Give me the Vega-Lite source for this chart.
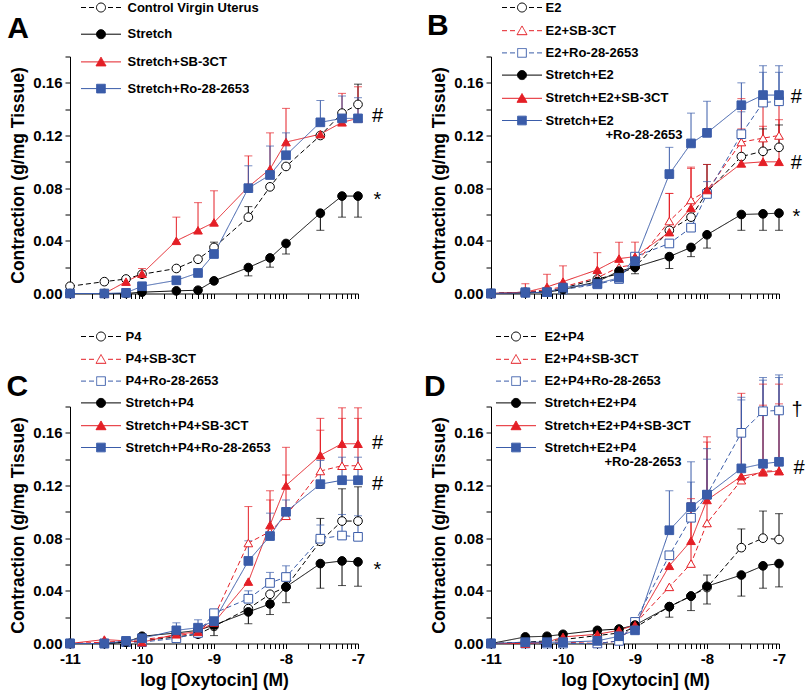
{
"$schema": "https://vega.github.io/schema/vega-lite/v6.json",
"background": "white",
"padding": {"left": 6, "top": 0.5, "right": 5, "bottom": 5},
"config": {
  "font": "Liberation Sans",
  "view": {"stroke": null},
  "axis": {"grid": false, "domainColor": "#000", "tickColor": "#000", "labelColor": "#000", "titleColor": "#000", "labelFontWeight": "bold", "labelFontSize": 15, "titleFontWeight": "bold", "titleFontSize": 17.5, "tickSize": 5, "domainWidth": 1, "tickWidth": 1, "labelPadding": 3, "titlePadding": 5, "labelOverlap": false, "labelFlush": false},
  "legend": {"labelFontSize": 13, "labelFontWeight": "bold", "labelColor": "#000", "labelLimit": 300, "padding": 0, "symbolStrokeWidth": 1, "symbolOffset": 11.5, "symbolSize": 100, "orient": "none", "title": null}
},
"datasets": {
"A": [
{"s":"Control Virgin Uterus","x":-11,"y":0.0055},{"s":"Control Virgin Uterus","x":-10.523,"y":0.009},{"s":"Control Virgin Uterus","x":-10.222,"y":0.011},{"s":"Control Virgin Uterus","x":-10,"y":0.0146},{"s":"Control Virgin Uterus","x":-9.523,"y":0.019},{"s":"Control Virgin Uterus","x":-9.222,"y":0.026},{"s":"Control Virgin Uterus","x":-9,"y":0.035,"e":0.039},{"s":"Control Virgin Uterus","x":-8.523,"y":0.058,"e":0.066},{"s":"Control Virgin Uterus","x":-8.222,"y":0.081},{"s":"Control Virgin Uterus","x":-8,"y":0.0965},{"s":"Control Virgin Uterus","x":-7.523,"y":0.12},{"s":"Control Virgin Uterus","x":-7.222,"y":0.137},{"s":"Control Virgin Uterus","x":-7,"y":0.1436,"e":0.159},
{"s":"Stretch","x":-11,"y":0},{"s":"Stretch","x":-10.523,"y":0},{"s":"Stretch","x":-10.222,"y":0},{"s":"Stretch","x":-10,"y":0.001},{"s":"Stretch","x":-9.523,"y":0.002},{"s":"Stretch","x":-9.222,"y":0.0025},{"s":"Stretch","x":-9,"y":0.0096},{"s":"Stretch","x":-8.523,"y":0.0197,"e":0.0134},{"s":"Stretch","x":-8.222,"y":0.027,"e":0.02},{"s":"Stretch","x":-8,"y":0.038,"e":0.03},{"s":"Stretch","x":-7.523,"y":0.061,"e":0.048},{"s":"Stretch","x":-7.222,"y":0.074,"e":0.058},{"s":"Stretch","x":-7,"y":0.074,"e":0.058},
{"s":"Stretch+SB-3CT","x":-11,"y":0},{"s":"Stretch+SB-3CT","x":-10.523,"y":0},{"s":"Stretch+SB-3CT","x":-10.222,"y":0.009},{"s":"Stretch+SB-3CT","x":-10,"y":0.015,"e":0.019},{"s":"Stretch+SB-3CT","x":-9.523,"y":0.04,"e":0.058},{"s":"Stretch+SB-3CT","x":-9.222,"y":0.048,"e":0.069},{"s":"Stretch+SB-3CT","x":-9,"y":0.054,"e":0.078},{"s":"Stretch+SB-3CT","x":-8.523,"y":0.081,"e":0.1045},{"s":"Stretch+SB-3CT","x":-8.222,"y":0.0945,"e":0.122},{"s":"Stretch+SB-3CT","x":-8,"y":0.115,"e":0.1406},{"s":"Stretch+SB-3CT","x":-7.523,"y":0.121},{"s":"Stretch+SB-3CT","x":-7.222,"y":0.13,"e":0.152},{"s":"Stretch+SB-3CT","x":-7,"y":0.133,"e":0.157},
{"s":"Stretch+Ro-28-2653","x":-11,"y":0},{"s":"Stretch+Ro-28-2653","x":-10.523,"y":0},{"s":"Stretch+Ro-28-2653","x":-10.222,"y":0.0005},{"s":"Stretch+Ro-28-2653","x":-10,"y":0.0055},{"s":"Stretch+Ro-28-2653","x":-9.523,"y":0.01},{"s":"Stretch+Ro-28-2653","x":-9.222,"y":0.0156},{"s":"Stretch+Ro-28-2653","x":-9,"y":0.03},{"s":"Stretch+Ro-28-2653","x":-8.523,"y":0.08,"e":0.097},{"s":"Stretch+Ro-28-2653","x":-8.222,"y":0.09,"e":0.112},{"s":"Stretch+Ro-28-2653","x":-8,"y":0.105,"e":0.122},{"s":"Stretch+Ro-28-2653","x":-7.523,"y":0.13,"e":0.1466},{"s":"Stretch+Ro-28-2653","x":-7.222,"y":0.133,"e":0.15},{"s":"Stretch+Ro-28-2653","x":-7,"y":0.133,"e":0.1487}
],
"B": [
{"s":"E2","x":-11,"y":0},{"s":"E2","x":-10.523,"y":0.001},{"s":"E2","x":-10.222,"y":0.002},{"s":"E2","x":-10,"y":0.004},{"s":"E2","x":-9.523,"y":0.011},{"s":"E2","x":-9.222,"y":0.015},{"s":"E2","x":-9,"y":0.02},{"s":"E2","x":-8.523,"y":0.048},{"s":"E2","x":-8.222,"y":0.058},{"s":"E2","x":-8,"y":0.077,"e":0.098},{"s":"E2","x":-7.523,"y":0.104},{"s":"E2","x":-7.222,"y":0.108,"e":0.125},{"s":"E2","x":-7,"y":0.111,"e":0.128},
{"s":"E2+SB-3CT","x":-11,"y":0},{"s":"E2+SB-3CT","x":-10.523,"y":0.001},{"s":"E2+SB-3CT","x":-10.222,"y":0.003},{"s":"E2+SB-3CT","x":-10,"y":0.005},{"s":"E2+SB-3CT","x":-9.523,"y":0.012},{"s":"E2+SB-3CT","x":-9.222,"y":0.02},{"s":"E2+SB-3CT","x":-9,"y":0.022},{"s":"E2+SB-3CT","x":-8.523,"y":0.055,"e":0.076},{"s":"E2+SB-3CT","x":-8.222,"y":0.071,"e":0.096},{"s":"E2+SB-3CT","x":-8,"y":0.078},{"s":"E2+SB-3CT","x":-7.523,"y":0.115,"e":0.148},{"s":"E2+SB-3CT","x":-7.222,"y":0.118,"e":0.148},{"s":"E2+SB-3CT","x":-7,"y":0.12,"e":0.146},
{"s":"E2+Ro-28-2653","x":-11,"y":0},{"s":"E2+Ro-28-2653","x":-10.523,"y":0.001},{"s":"E2+Ro-28-2653","x":-10.222,"y":0.001},{"s":"E2+Ro-28-2653","x":-10,"y":0.003},{"s":"E2+Ro-28-2653","x":-9.523,"y":0.007},{"s":"E2+Ro-28-2653","x":-9.222,"y":0.011},{"s":"E2+Ro-28-2653","x":-9,"y":0.028},{"s":"E2+Ro-28-2653","x":-8.523,"y":0.038},{"s":"E2+Ro-28-2653","x":-8.222,"y":0.05},{"s":"E2+Ro-28-2653","x":-8,"y":0.0756,"e":0.085},{"s":"E2+Ro-28-2653","x":-7.523,"y":0.121,"e":0.138},{"s":"E2+Ro-28-2653","x":-7.222,"y":0.145,"e":0.168},{"s":"E2+Ro-28-2653","x":-7,"y":0.146,"e":0.168},
{"s":"Stretch+E2","x":-11,"y":0},{"s":"Stretch+E2","x":-10.523,"y":0.0005},{"s":"Stretch+E2","x":-10.222,"y":0.001},{"s":"Stretch+E2","x":-10,"y":0.003},{"s":"Stretch+E2","x":-9.523,"y":0.009},{"s":"Stretch+E2","x":-9.222,"y":0.017},{"s":"Stretch+E2","x":-9,"y":0.02,"e":0.015},{"s":"Stretch+E2","x":-8.523,"y":0.028,"e":0.019},{"s":"Stretch+E2","x":-8.222,"y":0.035,"e":0.028},{"s":"Stretch+E2","x":-8,"y":0.0446,"e":0.0345},{"s":"Stretch+E2","x":-7.523,"y":0.06,"e":0.048},{"s":"Stretch+E2","x":-7.222,"y":0.0605,"e":0.048},{"s":"Stretch+E2","x":-7,"y":0.061,"e":0.048},
{"s":"Stretch+E2+SB-3CT","x":-11,"y":0},{"s":"Stretch+E2+SB-3CT","x":-10.523,"y":0.001,"e":0.0075},{"s":"Stretch+E2+SB-3CT","x":-10.222,"y":0.005,"e":0.0146},{"s":"Stretch+E2+SB-3CT","x":-10,"y":0.009,"e":0.021},{"s":"Stretch+E2+SB-3CT","x":-9.523,"y":0.018,"e":0.031},{"s":"Stretch+E2+SB-3CT","x":-9.222,"y":0.0265,"e":0.039},{"s":"Stretch+E2+SB-3CT","x":-9,"y":0.028,"e":0.039},{"s":"Stretch+E2+SB-3CT","x":-8.523,"y":0.0466,"e":0.076},{"s":"Stretch+E2+SB-3CT","x":-8.222,"y":0.065,"e":0.095},{"s":"Stretch+E2+SB-3CT","x":-8,"y":0.0786,"e":0.098},{"s":"Stretch+E2+SB-3CT","x":-7.523,"y":0.0988,"e":0.125},{"s":"Stretch+E2+SB-3CT","x":-7.222,"y":0.1,"e":0.127},{"s":"Stretch+E2+SB-3CT","x":-7,"y":0.1,"e":0.132},
{"s":"Stretch+E2+Ro-28-2653","x":-11,"y":0},{"s":"Stretch+E2+Ro-28-2653","x":-10.523,"y":0.0005},{"s":"Stretch+E2+Ro-28-2653","x":-10.222,"y":0.001},{"s":"Stretch+E2+Ro-28-2653","x":-10,"y":0.0045},{"s":"Stretch+E2+Ro-28-2653","x":-9.523,"y":0.0075},{"s":"Stretch+E2+Ro-28-2653","x":-9.222,"y":0.012},{"s":"Stretch+E2+Ro-28-2653","x":-9,"y":0.0245},{"s":"Stretch+E2+Ro-28-2653","x":-8.523,"y":0.0907,"e":0.111},{"s":"Stretch+E2+Ro-28-2653","x":-8.222,"y":0.114,"e":0.137},{"s":"Stretch+E2+Ro-28-2653","x":-8,"y":0.122,"e":0.146},{"s":"Stretch+E2+Ro-28-2653","x":-7.523,"y":0.143,"e":0.16},{"s":"Stretch+E2+Ro-28-2653","x":-7.222,"y":0.1507,"e":0.173},{"s":"Stretch+E2+Ro-28-2653","x":-7,"y":0.1507,"e":0.173}
],
"C": [
{"s":"P4","x":-11,"y":0},{"s":"P4","x":-10.523,"y":0},{"s":"P4","x":-10.222,"y":0.001},{"s":"P4","x":-10,"y":0.002},{"s":"P4","x":-9.523,"y":0.005},{"s":"P4","x":-9.222,"y":0.007},{"s":"P4","x":-9,"y":0.013},{"s":"P4","x":-8.523,"y":0.0265},{"s":"P4","x":-8.222,"y":0.0374},{"s":"P4","x":-8,"y":0.043},{"s":"P4","x":-7.523,"y":0.0776,"e":0.095},{"s":"P4","x":-7.222,"y":0.093,"e":0.1175},{"s":"P4","x":-7,"y":0.093,"e":0.119},
{"s":"P4+SB-3CT","x":-11,"y":0},{"s":"P4+SB-3CT","x":-10.523,"y":0.001},{"s":"P4+SB-3CT","x":-10.222,"y":0.002},{"s":"P4+SB-3CT","x":-10,"y":0.003},{"s":"P4+SB-3CT","x":-9.523,"y":0.006},{"s":"P4+SB-3CT","x":-9.222,"y":0.008},{"s":"P4+SB-3CT","x":-9,"y":0.02},{"s":"P4+SB-3CT","x":-8.523,"y":0.0763,"e":0.104},{"s":"P4+SB-3CT","x":-8.222,"y":0.085,"e":0.109},{"s":"P4+SB-3CT","x":-8,"y":0.097,"e":0.128},{"s":"P4+SB-3CT","x":-7.523,"y":0.131,"e":0.162},{"s":"P4+SB-3CT","x":-7.222,"y":0.135,"e":0.171},{"s":"P4+SB-3CT","x":-7,"y":0.135,"e":0.171},
{"s":"P4+Ro-28-2653","x":-11,"y":0},{"s":"P4+Ro-28-2653","x":-10.523,"y":0},{"s":"P4+Ro-28-2653","x":-10.222,"y":0.001},{"s":"P4+Ro-28-2653","x":-10,"y":0.001},{"s":"P4+Ro-28-2653","x":-9.523,"y":0.004},{"s":"P4+Ro-28-2653","x":-9.222,"y":0.008},{"s":"P4+Ro-28-2653","x":-9,"y":0.023},{"s":"P4+Ro-28-2653","x":-8.523,"y":0.034,"e":0.04},{"s":"P4+Ro-28-2653","x":-8.222,"y":0.046,"e":0.054},{"s":"P4+Ro-28-2653","x":-8,"y":0.0505,"e":0.059},{"s":"P4+Ro-28-2653","x":-7.523,"y":0.0796,"e":0.09},{"s":"P4+Ro-28-2653","x":-7.222,"y":0.082,"e":0.098},{"s":"P4+Ro-28-2653","x":-7,"y":0.081,"e":0.097},
{"s":"Stretch+P4","x":-11,"y":0},{"s":"Stretch+P4","x":-10.523,"y":0},{"s":"Stretch+P4","x":-10.222,"y":0.001},{"s":"Stretch+P4","x":-10,"y":0.0055},{"s":"Stretch+P4","x":-9.523,"y":0.008},{"s":"Stretch+P4","x":-9.222,"y":0.01},{"s":"Stretch+P4","x":-9,"y":0.014,"e":0.006},{"s":"Stretch+P4","x":-8.523,"y":0.024,"e":0.015},{"s":"Stretch+P4","x":-8.222,"y":0.03,"e":0.022},{"s":"Stretch+P4","x":-8,"y":0.043,"e":0.031},{"s":"Stretch+P4","x":-7.523,"y":0.0607,"e":0.042},{"s":"Stretch+P4","x":-7.222,"y":0.0627,"e":0.044},{"s":"Stretch+P4","x":-7,"y":0.062,"e":0.0435},
{"s":"Stretch+P4+SB-3CT","x":-11,"y":0},{"s":"Stretch+P4+SB-3CT","x":-10.523,"y":0.003},{"s":"Stretch+P4+SB-3CT","x":-10.222,"y":0.002},{"s":"Stretch+P4+SB-3CT","x":-10,"y":0.001},{"s":"Stretch+P4+SB-3CT","x":-9.523,"y":0.007},{"s":"Stretch+P4+SB-3CT","x":-9.222,"y":0.009},{"s":"Stretch+P4+SB-3CT","x":-9,"y":0.016},{"s":"Stretch+P4+SB-3CT","x":-8.523,"y":0.047},{"s":"Stretch+P4+SB-3CT","x":-8.222,"y":0.09,"e":0.116},{"s":"Stretch+P4+SB-3CT","x":-8,"y":0.12,"e":0.149},{"s":"Stretch+P4+SB-3CT","x":-7.523,"y":0.143,"e":0.171},{"s":"Stretch+P4+SB-3CT","x":-7.222,"y":0.1517,"e":0.179},{"s":"Stretch+P4+SB-3CT","x":-7,"y":0.1517,"e":0.179},
{"s":"Stretch+P4+Ro-28-2653","x":-11,"y":0},{"s":"Stretch+P4+Ro-28-2653","x":-10.523,"y":0},{"s":"Stretch+P4+Ro-28-2653","x":-10.222,"y":0.002},{"s":"Stretch+P4+Ro-28-2653","x":-10,"y":0.004},{"s":"Stretch+P4+Ro-28-2653","x":-9.523,"y":0.01,"e":0.0157},{"s":"Stretch+P4+Ro-28-2653","x":-9.222,"y":0.012,"e":0.018},{"s":"Stretch+P4+Ro-28-2653","x":-9,"y":0.017},{"s":"Stretch+P4+Ro-28-2653","x":-8.523,"y":0.0627,"e":0.078},{"s":"Stretch+P4+Ro-28-2653","x":-8.222,"y":0.0816,"e":0.099},{"s":"Stretch+P4+Ro-28-2653","x":-8,"y":0.1,"e":0.109},{"s":"Stretch+P4+Ro-28-2653","x":-7.523,"y":0.121,"e":0.139},{"s":"Stretch+P4+Ro-28-2653","x":-7.222,"y":0.124,"e":0.1415},{"s":"Stretch+P4+Ro-28-2653","x":-7,"y":0.124,"e":0.1415}
],
"D": [
{"s":"E2+P4","x":-11,"y":0},{"s":"E2+P4","x":-10.523,"y":0.001},{"s":"E2+P4","x":-10.222,"y":0.002},{"s":"E2+P4","x":-10,"y":0.003},{"s":"E2+P4","x":-9.523,"y":0.006},{"s":"E2+P4","x":-9.222,"y":0.008},{"s":"E2+P4","x":-9,"y":0.012},{"s":"E2+P4","x":-8.523,"y":0.028},{"s":"E2+P4","x":-8.222,"y":0.036},{"s":"E2+P4","x":-8,"y":0.0425,"e":0.052},{"s":"E2+P4","x":-7.523,"y":0.0728,"e":0.087},{"s":"E2+P4","x":-7.222,"y":0.08,"e":0.1006},{"s":"E2+P4","x":-7,"y":0.079,"e":0.0986},
{"s":"E2+P4+SB-3CT","x":-11,"y":0},{"s":"E2+P4+SB-3CT","x":-10.523,"y":0},{"s":"E2+P4+SB-3CT","x":-10.222,"y":0.001},{"s":"E2+P4+SB-3CT","x":-10,"y":0.001},{"s":"E2+P4+SB-3CT","x":-9.523,"y":0},{"s":"E2+P4+SB-3CT","x":-9.222,"y":0.002},{"s":"E2+P4+SB-3CT","x":-9,"y":0.015},{"s":"E2+P4+SB-3CT","x":-8.523,"y":0.043},{"s":"E2+P4+SB-3CT","x":-8.222,"y":0.0607,"e":0.11},{"s":"E2+P4+SB-3CT","x":-8,"y":0.0915,"e":0.153},{"s":"E2+P4+SB-3CT","x":-7.523,"y":0.124,"e":0.19},{"s":"E2+P4+SB-3CT","x":-7.222,"y":0.131,"e":0.197},{"s":"E2+P4+SB-3CT","x":-7,"y":0.131,"e":0.197},
{"s":"E2+P4+Ro-28-2653","x":-11,"y":0},{"s":"E2+P4+Ro-28-2653","x":-10.523,"y":0},{"s":"E2+P4+Ro-28-2653","x":-10.222,"y":0},{"s":"E2+P4+Ro-28-2653","x":-10,"y":0},{"s":"E2+P4+Ro-28-2653","x":-9.523,"y":0},{"s":"E2+P4+Ro-28-2653","x":-9.222,"y":0.002},{"s":"E2+P4+Ro-28-2653","x":-9,"y":0.0164},{"s":"E2+P4+Ro-28-2653","x":-8.523,"y":0.067},{"s":"E2+P4+Ro-28-2653","x":-8.222,"y":0.0955,"e":0.1226},{"s":"E2+P4+Ro-28-2653","x":-8,"y":0.113,"e":0.14},{"s":"E2+P4+Ro-28-2653","x":-7.523,"y":0.16,"e":0.187},{"s":"E2+P4+Ro-28-2653","x":-7.222,"y":0.1764,"e":0.202},{"s":"E2+P4+Ro-28-2653","x":-7,"y":0.177,"e":0.204},
{"s":"Stretch+E2+P4","x":-11,"y":0},{"s":"Stretch+E2+P4","x":-10.523,"y":0.005},{"s":"Stretch+E2+P4","x":-10.222,"y":0.0055},{"s":"Stretch+E2+P4","x":-10,"y":0.007},{"s":"Stretch+E2+P4","x":-9.523,"y":0.01},{"s":"Stretch+E2+P4","x":-9.222,"y":0.011},{"s":"Stretch+E2+P4","x":-9,"y":0.014},{"s":"Stretch+E2+P4","x":-8.523,"y":0.028,"e":0.02},{"s":"Stretch+E2+P4","x":-8.222,"y":0.036,"e":0.025},{"s":"Stretch+E2+P4","x":-8,"y":0.0435,"e":0.03},{"s":"Stretch+E2+P4","x":-7.523,"y":0.052,"e":0.036},{"s":"Stretch+E2+P4","x":-7.222,"y":0.059,"e":0.042},{"s":"Stretch+E2+P4","x":-7,"y":0.0607,"e":0.043},
{"s":"Stretch+E2+P4+SB-3CT","x":-11,"y":0},{"s":"Stretch+E2+P4+SB-3CT","x":-10.523,"y":0},{"s":"Stretch+E2+P4+SB-3CT","x":-10.222,"y":0.001},{"s":"Stretch+E2+P4+SB-3CT","x":-10,"y":0.005},{"s":"Stretch+E2+P4+SB-3CT","x":-9.523,"y":0.007},{"s":"Stretch+E2+P4+SB-3CT","x":-9.222,"y":0.01},{"s":"Stretch+E2+P4+SB-3CT","x":-9,"y":0.014},{"s":"Stretch+E2+P4+SB-3CT","x":-8.523,"y":0.059},{"s":"Stretch+E2+P4+SB-3CT","x":-8.222,"y":0.078,"e":0.107},{"s":"Stretch+E2+P4+SB-3CT","x":-8,"y":0.109,"e":0.157},{"s":"Stretch+E2+P4+SB-3CT","x":-7.523,"y":0.127,"e":0.162},{"s":"Stretch+E2+P4+SB-3CT","x":-7.222,"y":0.13,"e":0.181},{"s":"Stretch+E2+P4+SB-3CT","x":-7,"y":0.131,"e":0.182},
{"s":"Stretch+E2+P4+Ro-28-2653","x":-11,"y":0},{"s":"Stretch+E2+P4+Ro-28-2653","x":-10.523,"y":0.001},{"s":"Stretch+E2+P4+Ro-28-2653","x":-10.222,"y":0.001},{"s":"Stretch+E2+P4+Ro-28-2653","x":-10,"y":0.001},{"s":"Stretch+E2+P4+Ro-28-2653","x":-9.523,"y":0.002},{"s":"Stretch+E2+P4+Ro-28-2653","x":-9.222,"y":0.0055},{"s":"Stretch+E2+P4+Ro-28-2653","x":-9,"y":0.01},{"s":"Stretch+E2+P4+Ro-28-2653","x":-8.523,"y":0.086,"e":0.116},{"s":"Stretch+E2+P4+Ro-28-2653","x":-8.222,"y":0.1036,"e":0.138},{"s":"Stretch+E2+P4+Ro-28-2653","x":-8,"y":0.113,"e":0.148},{"s":"Stretch+E2+P4+Ro-28-2653","x":-7.523,"y":0.133,"e":0.185},{"s":"Stretch+E2+P4+Ro-28-2653","x":-7.222,"y":0.1365,"e":0.2},{"s":"Stretch+E2+P4+Ro-28-2653","x":-7,"y":0.138,"e":0.202}
]
},
"columns": 2,
"bounds": "flush",
"spacing": {"row": 113, "column": 133},
"resolve": {"scale": {"color": "independent", "stroke": "independent", "strokeDash": "independent", "shape": "independent", "fill": "independent", "opacity": "independent"}},
"concat": [
{
 "width": 288, "height": 237,
 "data": {"name": "A"},
 "encoding": {
  "x": {"field": "x", "type": "quantitative", "scale": {"domain": [-11, -7], "nice": false, "zero": false}, "axis": {"values": [-11,-10.69897,-10.52288,-10.39794,-10.30103,-10.22185,-10.1549,-10.09691,-10.04576,-10,-9.69897,-9.52288,-9.39794,-9.30103,-9.22185,-9.1549,-9.09691,-9.04576,-9,-8.69897,-8.52288,-8.39794,-8.30103,-8.22185,-8.1549,-8.09691,-8.04576,-8,-7.69897,-7.52288,-7.39794,-7.30103,-7.22185,-7.1549,-7.09691,-7.04576,-7], "labels": false, "title": null}},
  "y": {"field": "y", "type": "quantitative", "scale": {"domain": [0, 0.18], "nice": false, "zero": false}, "axis": {"values": [0,0.02,0.04,0.06,0.08,0.1,0.12,0.14,0.16,0.18], "labelExpr": "round(datum.value*50) % 2 == 0 ? format(datum.value, '.2f') : ''", "title": "Contraction (g/mg Tissue)"}}
 },
 "layer": [
  {"transform": [{"filter": "isValid(datum.e)"}], "mark": {"type": "rule", "strokeWidth": 1}, "encoding": {"y2": {"field": "e"}, "color": {"field": "s", "type": "nominal", "scale": {"domain": ["Stretch+Ro-28-2653","Stretch+SB-3CT","Stretch","Control Virgin Uterus"], "range": ["#3a5ca9","#e41f26","#000000","#000000"]}, "legend": null}}},
  {"transform": [{"filter": "isValid(datum.e)"}], "mark": {"type": "tick", "orient": "horizontal", "size": 8, "thickness": 1}, "encoding": {"y": {"field": "e", "type": "quantitative"}, "color": {"field": "s", "type": "nominal", "legend": null}}},
  {"mark": {"type": "line", "strokeWidth": 1}, "encoding": {
    "stroke": {"field": "s", "type": "nominal", "scale": {"domain": ["Stretch+Ro-28-2653","Stretch+SB-3CT","Stretch","Control Virgin Uterus"], "range": ["#3a5ca9","#e41f26","#000000","#000000"]}, "legend": null},
    "strokeDash": {"field": "s", "type": "nominal", "scale": {"domain": ["Stretch+Ro-28-2653","Stretch+SB-3CT","Stretch","Control Virgin Uterus"], "range": [[1,0],[1,0],[1,0],[5,3]]}, "legend": null}}},
  {"mark": {"type": "point", "filled": true, "size": 75, "strokeWidth": 1}, "encoding": {
    "shape": {"field": "s", "type": "nominal", "scale": {"domain": ["Stretch+Ro-28-2653","Stretch+SB-3CT","Stretch","Control Virgin Uterus"], "range": ["square","triangle-up","circle","circle"]}, "legend": null},
    "fill": {"field": "s", "type": "nominal", "scale": {"domain": ["Stretch+Ro-28-2653","Stretch+SB-3CT","Stretch","Control Virgin Uterus"], "range": ["#3a5ca9","#e41f26","#000000","#ffffff"]}, "legend": null},
    "stroke": {"field": "s", "type": "nominal", "legend": null},
    "opacity": {"field": "s", "type": "nominal", "scale": {"domain": ["Control Virgin Uterus","Stretch","Stretch+SB-3CT","Stretch+Ro-28-2653"], "range": [1,1,1,1]},
      "legend": {"legendX": 13, "legendY": -55.5, "rowPadding": 12.7, "labelOffset": 20, "encoding": {"symbols": {"shape": {"value": {"expr": "(indexof(datum.value,'Stretch')==0 ? 'M-4,0H4' : 'M-4,0H-3M-2.4,0H-1.4M1.4,0H2.4M3,0H4') + (indexof(datum.value,'SB-3CT')>=0 ? 'M-1,0.8L1,0.8L0,-0.95Z' : (indexof(datum.value,'Ro-28')>=0 ? 'M-0.87,-0.87H0.87V0.87H-0.87Z' : 'M-0.9,0A0.9,0.9,0,1,1,0.9,0A0.9,0.9,0,1,1,-0.9,0Z'))"}}, "fill": {"value": {"expr": "indexof(datum.value,'Stretch')==0 ? (indexof(datum.value,'SB-3CT')>=0 ? '#e41f26' : (indexof(datum.value,'Ro-28')>=0 ? '#3a5ca9' : '#000000')) : '#ffffff'"}}, "stroke": {"value": {"expr": "indexof(datum.value,'SB-3CT')>=0 ? '#e41f26' : (indexof(datum.value,'Ro-28')>=0 ? '#3a5ca9' : '#000000')"}}, "strokeDash": {"value": [1,0]}, "size": {"value": 100}, "strokeWidth": {"value": 1}, "fillOpacity": {"value": 1}, "strokeOpacity": {"value": 1}}}}}}},
  {"data": {"values": [{"t": "#", "ax": -6.73, "v": 0.135}, {"t": "*", "ax": -6.73, "v": 0.071}]}, "mark": {"type": "text", "fontSize": 20, "align": "center", "baseline": "middle", "fill": "#000"}, "encoding": {"x": {"field": "ax", "type": "quantitative"}, "y": {"field": "v", "type": "quantitative"}, "text": {"field": "t", "type": "nominal"}}},
  {"data": {"values": [{"t": "A", "ax": -11.72, "v": 0.194}]}, "mark": {"type": "text", "fontSize": 30, "fontWeight": "bold", "align": "center", "baseline": "alphabetic", "fill": "#000"}, "encoding": {"x": {"field": "ax", "type": "quantitative"}, "y": {"field": "v", "type": "quantitative"}, "text": {"field": "t", "type": "nominal"}}}
 ]
},
{
 "width": 288, "height": 237,
 "data": {"name": "B"},
 "encoding": {
  "x": {"field": "x", "type": "quantitative", "scale": {"domain": [-11, -7], "nice": false, "zero": false}, "axis": {"values": [-11,-10.69897,-10.52288,-10.39794,-10.30103,-10.22185,-10.1549,-10.09691,-10.04576,-10,-9.69897,-9.52288,-9.39794,-9.30103,-9.22185,-9.1549,-9.09691,-9.04576,-9,-8.69897,-8.52288,-8.39794,-8.30103,-8.22185,-8.1549,-8.09691,-8.04576,-8,-7.69897,-7.52288,-7.39794,-7.30103,-7.22185,-7.1549,-7.09691,-7.04576,-7], "labels": false, "title": null}},
  "y": {"field": "y", "type": "quantitative", "scale": {"domain": [0, 0.18], "nice": false, "zero": false}, "axis": {"values": [0,0.02,0.04,0.06,0.08,0.1,0.12,0.14,0.16,0.18], "labelExpr": "round(datum.value*50) % 2 == 0 ? format(datum.value, '.2f') : ''", "title": "Contraction (g/mg Tissue)"}}
 },
 "layer": [
  {"transform": [{"filter": "isValid(datum.e)"}], "mark": {"type": "rule", "strokeWidth": 1}, "encoding": {"y2": {"field": "e"}, "color": {"field": "s", "type": "nominal", "scale": {"domain": ["Stretch+E2+Ro-28-2653","Stretch+E2+SB-3CT","Stretch+E2","E2+Ro-28-2653","E2+SB-3CT","E2"], "range": ["#3a5ca9","#e41f26","#000000","#3a5ca9","#e41f26","#000000"]}, "legend": null}}},
  {"transform": [{"filter": "isValid(datum.e)"}], "mark": {"type": "tick", "orient": "horizontal", "size": 8, "thickness": 1}, "encoding": {"y": {"field": "e", "type": "quantitative"}, "color": {"field": "s", "type": "nominal", "legend": null}}},
  {"mark": {"type": "line", "strokeWidth": 1}, "encoding": {
    "stroke": {"field": "s", "type": "nominal", "scale": {"domain": ["Stretch+E2+Ro-28-2653","Stretch+E2+SB-3CT","Stretch+E2","E2+Ro-28-2653","E2+SB-3CT","E2"], "range": ["#3a5ca9","#e41f26","#000000","#3a5ca9","#e41f26","#000000"]}, "legend": null},
    "strokeDash": {"field": "s", "type": "nominal", "scale": {"domain": ["Stretch+E2+Ro-28-2653","Stretch+E2+SB-3CT","Stretch+E2","E2+Ro-28-2653","E2+SB-3CT","E2"], "range": [[1,0],[1,0],[1,0],[5,3],[5,3],[5,3]]}, "legend": null}}},
  {"mark": {"type": "point", "filled": true, "size": 75, "strokeWidth": 1}, "encoding": {
    "shape": {"field": "s", "type": "nominal", "scale": {"domain": ["Stretch+E2+Ro-28-2653","Stretch+E2+SB-3CT","Stretch+E2","E2+Ro-28-2653","E2+SB-3CT","E2"], "range": ["square","triangle-up","circle","square","triangle-up","circle"]}, "legend": null},
    "fill": {"field": "s", "type": "nominal", "scale": {"domain": ["Stretch+E2+Ro-28-2653","Stretch+E2+SB-3CT","Stretch+E2","E2+Ro-28-2653","E2+SB-3CT","E2"], "range": ["#3a5ca9","#e41f26","#000000","#ffffff","#ffffff","#ffffff"]}, "legend": null},
    "stroke": {"field": "s", "type": "nominal", "legend": null},
    "opacity": {"field": "s", "type": "nominal", "scale": {"domain": ["E2","E2+SB-3CT","E2+Ro-28-2653","Stretch+E2","Stretch+E2+SB-3CT","Stretch+E2+Ro-28-2653"], "range": [1,1,1,1,1,1]},
      "legend": {"legendX": 13, "legendY": -55.5, "rowPadding": 8.2, "labelOffset": 17, "labelExpr": "datum.label == 'Stretch+E2+Ro-28-2653' ? ['Stretch+E2', '\u2800\u2800\u2800\u2800\u2800\u2800+Ro-28-2653'] : datum.label", "encoding": {"labels": {"lineHeight": {"value": 14}}, "symbols": {"shape": {"value": {"expr": "(indexof(datum.value,'Stretch')==0 ? 'M-4,0H4' : 'M-4,0H-3M-2.4,0H-1.4M1.4,0H2.4M3,0H4') + (indexof(datum.value,'SB-3CT')>=0 ? 'M-1,0.8L1,0.8L0,-0.95Z' : (indexof(datum.value,'Ro-28')>=0 ? 'M-0.87,-0.87H0.87V0.87H-0.87Z' : 'M-0.9,0A0.9,0.9,0,1,1,0.9,0A0.9,0.9,0,1,1,-0.9,0Z'))"}}, "fill": {"value": {"expr": "indexof(datum.value,'Stretch')==0 ? (indexof(datum.value,'SB-3CT')>=0 ? '#e41f26' : (indexof(datum.value,'Ro-28')>=0 ? '#3a5ca9' : '#000000')) : '#ffffff'"}}, "stroke": {"value": {"expr": "indexof(datum.value,'SB-3CT')>=0 ? '#e41f26' : (indexof(datum.value,'Ro-28')>=0 ? '#3a5ca9' : '#000000')"}}, "strokeDash": {"value": [1,0]}, "size": {"value": 100}, "strokeWidth": {"value": 1}, "fillOpacity": {"value": 1}, "strokeOpacity": {"value": 1}}}}}}},
  {"data": {"values": [{"t": "#", "ax": -6.76, "v": 0.149}, {"t": "#", "ax": -6.76, "v": 0.099}, {"t": "*", "ax": -6.76, "v": 0.058}]}, "mark": {"type": "text", "fontSize": 20, "align": "center", "baseline": "middle", "fill": "#000"}, "encoding": {"x": {"field": "ax", "type": "quantitative"}, "y": {"field": "v", "type": "quantitative"}, "text": {"field": "t", "type": "nominal"}}},
  {"data": {"values": [{"t": "B", "ax": -11.74, "v": 0.196}]}, "mark": {"type": "text", "fontSize": 30, "fontWeight": "bold", "align": "center", "baseline": "alphabetic", "fill": "#000"}, "encoding": {"x": {"field": "ax", "type": "quantitative"}, "y": {"field": "v", "type": "quantitative"}, "text": {"field": "t", "type": "nominal"}}}
 ]
},
{
 "width": 288, "height": 237,
 "data": {"name": "C"},
 "encoding": {
  "x": {"field": "x", "type": "quantitative", "scale": {"domain": [-11, -7], "nice": false, "zero": false}, "axis": {"values": [-11,-10.69897,-10.52288,-10.39794,-10.30103,-10.22185,-10.1549,-10.09691,-10.04576,-10,-9.69897,-9.52288,-9.39794,-9.30103,-9.22185,-9.1549,-9.09691,-9.04576,-9,-8.69897,-8.52288,-8.39794,-8.30103,-8.22185,-8.1549,-8.09691,-8.04576,-8,-7.69897,-7.52288,-7.39794,-7.30103,-7.22185,-7.1549,-7.09691,-7.04576,-7], "labelExpr": "datum.value == round(datum.value) ? toString(datum.value) : ''", "title": "log [Oxytocin] (M)"}},
  "y": {"field": "y", "type": "quantitative", "scale": {"domain": [0, 0.18], "nice": false, "zero": false}, "axis": {"values": [0,0.02,0.04,0.06,0.08,0.1,0.12,0.14,0.16,0.18], "labelExpr": "round(datum.value*50) % 2 == 0 ? format(datum.value, '.2f') : ''", "title": "Contraction (g/mg Tissue)"}}
 },
 "layer": [
  {"transform": [{"filter": "isValid(datum.e)"}], "mark": {"type": "rule", "strokeWidth": 1}, "encoding": {"y2": {"field": "e"}, "color": {"field": "s", "type": "nominal", "scale": {"domain": ["Stretch+P4+Ro-28-2653","Stretch+P4+SB-3CT","Stretch+P4","P4+Ro-28-2653","P4+SB-3CT","P4"], "range": ["#3a5ca9","#e41f26","#000000","#3a5ca9","#e41f26","#000000"]}, "legend": null}}},
  {"transform": [{"filter": "isValid(datum.e)"}], "mark": {"type": "tick", "orient": "horizontal", "size": 8, "thickness": 1}, "encoding": {"y": {"field": "e", "type": "quantitative"}, "color": {"field": "s", "type": "nominal", "legend": null}}},
  {"mark": {"type": "line", "strokeWidth": 1}, "encoding": {
    "stroke": {"field": "s", "type": "nominal", "scale": {"domain": ["Stretch+P4+Ro-28-2653","Stretch+P4+SB-3CT","Stretch+P4","P4+Ro-28-2653","P4+SB-3CT","P4"], "range": ["#3a5ca9","#e41f26","#000000","#3a5ca9","#e41f26","#000000"]}, "legend": null},
    "strokeDash": {"field": "s", "type": "nominal", "scale": {"domain": ["Stretch+P4+Ro-28-2653","Stretch+P4+SB-3CT","Stretch+P4","P4+Ro-28-2653","P4+SB-3CT","P4"], "range": [[1,0],[1,0],[1,0],[5,3],[5,3],[5,3]]}, "legend": null}}},
  {"mark": {"type": "point", "filled": true, "size": 75, "strokeWidth": 1}, "encoding": {
    "shape": {"field": "s", "type": "nominal", "scale": {"domain": ["Stretch+P4+Ro-28-2653","Stretch+P4+SB-3CT","Stretch+P4","P4+Ro-28-2653","P4+SB-3CT","P4"], "range": ["square","triangle-up","circle","square","triangle-up","circle"]}, "legend": null},
    "fill": {"field": "s", "type": "nominal", "scale": {"domain": ["Stretch+P4+Ro-28-2653","Stretch+P4+SB-3CT","Stretch+P4","P4+Ro-28-2653","P4+SB-3CT","P4"], "range": ["#3a5ca9","#e41f26","#000000","#ffffff","#ffffff","#ffffff"]}, "legend": null},
    "stroke": {"field": "s", "type": "nominal", "legend": null},
    "opacity": {"field": "s", "type": "nominal", "scale": {"domain": ["P4","P4+SB-3CT","P4+Ro-28-2653","Stretch+P4","Stretch+P4+SB-3CT","Stretch+P4+Ro-28-2653"], "range": [1,1,1,1,1,1]},
      "legend": {"legendX": 13, "legendY": -76.5, "rowPadding": 7.8, "labelOffset": 18, "encoding": {"symbols": {"shape": {"value": {"expr": "(indexof(datum.value,'Stretch')==0 ? 'M-4,0H4' : 'M-4,0H-3M-2.4,0H-1.4M1.4,0H2.4M3,0H4') + (indexof(datum.value,'SB-3CT')>=0 ? 'M-1,0.8L1,0.8L0,-0.95Z' : (indexof(datum.value,'Ro-28')>=0 ? 'M-0.87,-0.87H0.87V0.87H-0.87Z' : 'M-0.9,0A0.9,0.9,0,1,1,0.9,0A0.9,0.9,0,1,1,-0.9,0Z'))"}}, "fill": {"value": {"expr": "indexof(datum.value,'Stretch')==0 ? (indexof(datum.value,'SB-3CT')>=0 ? '#e41f26' : (indexof(datum.value,'Ro-28')>=0 ? '#3a5ca9' : '#000000')) : '#ffffff'"}}, "stroke": {"value": {"expr": "indexof(datum.value,'SB-3CT')>=0 ? '#e41f26' : (indexof(datum.value,'Ro-28')>=0 ? '#3a5ca9' : '#000000')"}}, "strokeDash": {"value": [1,0]}, "size": {"value": 100}, "strokeWidth": {"value": 1}, "fillOpacity": {"value": 1}, "strokeOpacity": {"value": 1}}}}}}},
  {"data": {"values": [{"t": "#", "ax": -6.73, "v": 0.152}, {"t": "#", "ax": -6.73, "v": 0.121}, {"t": "*", "ax": -6.73, "v": 0.056}]}, "mark": {"type": "text", "fontSize": 20, "align": "center", "baseline": "middle", "fill": "#000"}, "encoding": {"x": {"field": "ax", "type": "quantitative"}, "y": {"field": "v", "type": "quantitative"}, "text": {"field": "t", "type": "nominal"}}},
  {"data": {"values": [{"t": "C", "ax": -11.73, "v": 0.188}]}, "mark": {"type": "text", "fontSize": 30, "fontWeight": "bold", "align": "center", "baseline": "alphabetic", "fill": "#000"}, "encoding": {"x": {"field": "ax", "type": "quantitative"}, "y": {"field": "v", "type": "quantitative"}, "text": {"field": "t", "type": "nominal"}}}
 ]
},
{
 "width": 288, "height": 237,
 "data": {"name": "D"},
 "encoding": {
  "x": {"field": "x", "type": "quantitative", "scale": {"domain": [-11, -7], "nice": false, "zero": false}, "axis": {"values": [-11,-10.69897,-10.52288,-10.39794,-10.30103,-10.22185,-10.1549,-10.09691,-10.04576,-10,-9.69897,-9.52288,-9.39794,-9.30103,-9.22185,-9.1549,-9.09691,-9.04576,-9,-8.69897,-8.52288,-8.39794,-8.30103,-8.22185,-8.1549,-8.09691,-8.04576,-8,-7.69897,-7.52288,-7.39794,-7.30103,-7.22185,-7.1549,-7.09691,-7.04576,-7], "labelExpr": "datum.value == round(datum.value) ? toString(datum.value) : ''", "title": "log [Oxytocin] (M)"}},
  "y": {"field": "y", "type": "quantitative", "scale": {"domain": [0, 0.18], "nice": false, "zero": false}, "axis": {"values": [0,0.02,0.04,0.06,0.08,0.1,0.12,0.14,0.16,0.18], "labelExpr": "round(datum.value*50) % 2 == 0 ? format(datum.value, '.2f') : ''", "title": "Contraction (g/mg Tissue)"}}
 },
 "layer": [
  {"transform": [{"filter": "isValid(datum.e)"}], "mark": {"type": "rule", "strokeWidth": 1}, "encoding": {"y2": {"field": "e"}, "color": {"field": "s", "type": "nominal", "scale": {"domain": ["Stretch+E2+P4+Ro-28-2653","Stretch+E2+P4+SB-3CT","Stretch+E2+P4","E2+P4+Ro-28-2653","E2+P4+SB-3CT","E2+P4"], "range": ["#3a5ca9","#e41f26","#000000","#3a5ca9","#e41f26","#000000"]}, "legend": null}}},
  {"transform": [{"filter": "isValid(datum.e)"}], "mark": {"type": "tick", "orient": "horizontal", "size": 8, "thickness": 1}, "encoding": {"y": {"field": "e", "type": "quantitative"}, "color": {"field": "s", "type": "nominal", "legend": null}}},
  {"mark": {"type": "line", "strokeWidth": 1}, "encoding": {
    "stroke": {"field": "s", "type": "nominal", "scale": {"domain": ["Stretch+E2+P4+Ro-28-2653","Stretch+E2+P4+SB-3CT","Stretch+E2+P4","E2+P4+Ro-28-2653","E2+P4+SB-3CT","E2+P4"], "range": ["#3a5ca9","#e41f26","#000000","#3a5ca9","#e41f26","#000000"]}, "legend": null},
    "strokeDash": {"field": "s", "type": "nominal", "scale": {"domain": ["Stretch+E2+P4+Ro-28-2653","Stretch+E2+P4+SB-3CT","Stretch+E2+P4","E2+P4+Ro-28-2653","E2+P4+SB-3CT","E2+P4"], "range": [[1,0],[1,0],[1,0],[5,3],[5,3],[5,3]]}, "legend": null}}},
  {"mark": {"type": "point", "filled": true, "size": 75, "strokeWidth": 1}, "encoding": {
    "shape": {"field": "s", "type": "nominal", "scale": {"domain": ["Stretch+E2+P4+Ro-28-2653","Stretch+E2+P4+SB-3CT","Stretch+E2+P4","E2+P4+Ro-28-2653","E2+P4+SB-3CT","E2+P4"], "range": ["square","triangle-up","circle","square","triangle-up","circle"]}, "legend": null},
    "fill": {"field": "s", "type": "nominal", "scale": {"domain": ["Stretch+E2+P4+Ro-28-2653","Stretch+E2+P4+SB-3CT","Stretch+E2+P4","E2+P4+Ro-28-2653","E2+P4+SB-3CT","E2+P4"], "range": ["#3a5ca9","#e41f26","#000000","#ffffff","#ffffff","#ffffff"]}, "legend": null},
    "stroke": {"field": "s", "type": "nominal", "legend": null},
    "opacity": {"field": "s", "type": "nominal", "scale": {"domain": ["E2+P4","E2+P4+SB-3CT","E2+P4+Ro-28-2653","Stretch+E2+P4","Stretch+E2+P4+SB-3CT","Stretch+E2+P4+Ro-28-2653"], "range": [1,1,1,1,1,1]},
      "legend": {"legendX": 7, "legendY": -76.5, "rowPadding": 7.8, "labelOffset": 22, "labelExpr": "datum.label == 'Stretch+E2+P4+Ro-28-2653' ? ['Stretch+E2+P4', '\u2800\u2800\u2800\u2800\u2800\u2800+Ro-28-2653'] : datum.label", "encoding": {"labels": {"lineHeight": {"value": 14}}, "symbols": {"shape": {"value": {"expr": "(indexof(datum.value,'Stretch')==0 ? 'M-4,0H4' : 'M-4,0H-3M-2.4,0H-1.4M1.4,0H2.4M3,0H4') + (indexof(datum.value,'SB-3CT')>=0 ? 'M-1,0.8L1,0.8L0,-0.95Z' : (indexof(datum.value,'Ro-28')>=0 ? 'M-0.87,-0.87H0.87V0.87H-0.87Z' : 'M-0.9,0A0.9,0.9,0,1,1,0.9,0A0.9,0.9,0,1,1,-0.9,0Z'))"}}, "fill": {"value": {"expr": "indexof(datum.value,'Stretch')==0 ? (indexof(datum.value,'SB-3CT')>=0 ? '#e41f26' : (indexof(datum.value,'Ro-28')>=0 ? '#3a5ca9' : '#000000')) : '#ffffff'"}}, "stroke": {"value": {"expr": "indexof(datum.value,'SB-3CT')>=0 ? '#e41f26' : (indexof(datum.value,'Ro-28')>=0 ? '#3a5ca9' : '#000000')"}}, "strokeDash": {"value": [1,0]}, "size": {"value": 100}, "strokeWidth": {"value": 1}, "fillOpacity": {"value": 1}, "strokeOpacity": {"value": 1}}}}}}},
  {"data": {"values": [{"t": "†", "ax": -6.75, "v": 0.177}, {"t": "#", "ax": -6.72, "v": 0.133}]}, "mark": {"type": "text", "fontSize": 20, "align": "center", "baseline": "middle", "fill": "#000"}, "encoding": {"x": {"field": "ax", "type": "quantitative"}, "y": {"field": "v", "type": "quantitative"}, "text": {"field": "t", "type": "nominal"}}},
  {"data": {"values": [{"t": "D", "ax": -11.78, "v": 0.188}]}, "mark": {"type": "text", "fontSize": 30, "fontWeight": "bold", "align": "center", "baseline": "alphabetic", "fill": "#000"}, "encoding": {"x": {"field": "ax", "type": "quantitative"}, "y": {"field": "v", "type": "quantitative"}, "text": {"field": "t", "type": "nominal"}}}
 ]
}
]
}
